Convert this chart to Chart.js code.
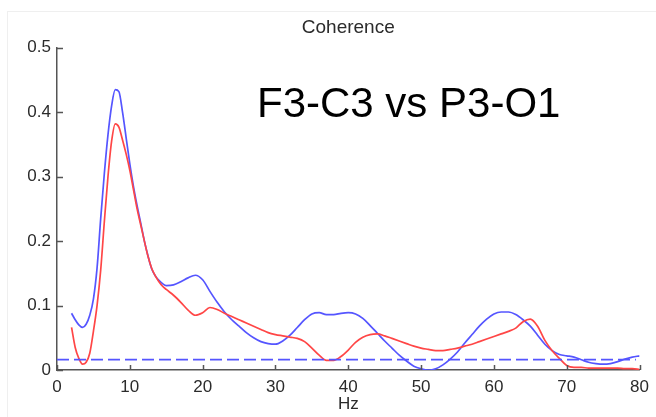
<!DOCTYPE html>
<html>
<head>
<meta charset="utf-8">
<title>Coherence</title>
<script src="https://cdn.jsdelivr.net/npm/chart.js@4/dist/chart.umd.min.js"></script>
<style>
  html, body { margin: 0; padding: 0; background: #fff; }
  #wrap { position: relative; width: 656px; height: 417px; overflow: hidden; }
  #frame {
    position: absolute; left: 7px; top: 11px; width: 700px; height: 420px;
    border-left: 1px solid #efefef; border-top: 1px solid #efefef;
  }
  #coh { position: absolute; left: 0; top: 0; }
  #pair {
    position: absolute; left: 257px; top: 79px;
    font-family: "Liberation Sans", Arial, sans-serif;
    font-size: 42px; color: #000; white-space: nowrap; line-height: 48px;
  }
</style>
</head>
<body>
<div id="wrap">
  <div id="frame"></div>
  <canvas id="coh" width="656" height="417"></canvas>
  <div id="pair">F3-C3 vs P3-O1</div>
</div>
<script>
'use strict';

// frequency grid (Hz)
const hz = [2, 2.5, 3, 3.5, 4, 4.5, 5, 5.5, 6, 6.5, 7, 7.5, 8, 8.5, 9, 9.5, 10, 10.5, 11, 11.5, 12, 12.5, 13, 13.5, 14, 14.5,
  15, 16, 17, 18, 19, 20, 21, 22, 23, 24, 25, 26, 27, 28, 29, 30, 31, 32, 33, 34, 35, 36, 37, 38, 39, 40,
  41, 42, 43, 44, 45, 46, 47, 48, 49, 50, 51, 52, 53, 54, 55, 56, 57, 58, 59, 60,
  61, 62, 63, 64, 65, 66, 67, 68, 69, 70, 71, 72, 73, 74, 75, 76, 77, 78, 79, 80];

// coherence, blue trace
const blueCoh = [0.088, 0.078, 0.070, 0.066, 0.071, 0.085, 0.110, 0.158, 0.235, 0.305, 0.365, 0.410, 0.435, 0.432, 0.400, 0.360, 0.320, 0.285, 0.255, 0.228, 0.200, 0.177, 0.157, 0.146, 0.139, 0.134,
  0.131, 0.132, 0.137, 0.143, 0.147, 0.140, 0.122, 0.105, 0.090, 0.078, 0.068, 0.058, 0.050, 0.044, 0.041, 0.040,
  0.045, 0.054, 0.066, 0.078, 0.087, 0.089, 0.086, 0.086, 0.088, 0.089,
  0.087, 0.080, 0.069, 0.057, 0.045, 0.034, 0.023, 0.014, 0.006, 0.002, 0.000, 0.002, 0.008, 0.017, 0.028, 0.042, 0.055, 0.068, 0.079, 0.087,
  0.090, 0.090, 0.086, 0.078, 0.068, 0.054, 0.040, 0.030, 0.024, 0.022, 0.020, 0.016, 0.012, 0.010, 0.009, 0.010, 0.013, 0.017, 0.020, 0.022];

// coherence, red trace
const redCoh = [0.066, 0.035, 0.018, 0.009, 0.012, 0.026, 0.060, 0.100, 0.155, 0.230, 0.300, 0.355, 0.382, 0.377, 0.357, 0.335, 0.310, 0.280, 0.250, 0.225, 0.200, 0.176, 0.158, 0.146, 0.137, 0.130,
  0.125, 0.116, 0.105, 0.093, 0.085, 0.089, 0.097, 0.094, 0.088, 0.083, 0.078, 0.073, 0.068, 0.063, 0.058, 0.055,
  0.053, 0.051, 0.049, 0.044, 0.034, 0.023, 0.015, 0.015, 0.021, 0.031,
  0.043, 0.051, 0.055, 0.056, 0.053, 0.049, 0.045, 0.041, 0.037, 0.034, 0.032, 0.030, 0.030, 0.032, 0.034, 0.037, 0.040, 0.044, 0.048, 0.052,
  0.056, 0.060, 0.065, 0.075, 0.079, 0.068, 0.046, 0.030, 0.018, 0.007, 0.004, 0.004, 0.003, 0.003, 0.003, 0.003, 0.003, 0.002, 0.002, 0.001];

// significance level (dashed)
const sigHz = [0, 79.5];
const sigLevel = [0.016, 0.016];

const xTicks = [0, 10, 20, 30, 40, 50, 60, 70, 80];
const yTicks = [0, 0.1, 0.2, 0.3, 0.4, 0.5];

const BLUE = 'rgb(85, 85, 255)';
const RED = 'rgb(255, 70, 70)';
const AXIS = '#555';
const TEXT = '#2b2b2b';

function toPoints(xs, ys) {
    return xs.map((x, i) => ({ x: x, y: ys[i] }));
}

// matlab style ticks pointing into the plot
const innerTicks = {
    id: 'innerTicks',
    afterDraw(chart) {
        const ctx = chart.ctx;
        const xs = chart.scales.x;
        const ys = chart.scales.y;
        const area = chart.chartArea;
        ctx.save();
        ctx.strokeStyle = AXIS;
        ctx.lineWidth = 1.5;
        ctx.beginPath();
        xTicks.forEach(function (v) {
            const px = Math.round(xs.getPixelForValue(v)) + 0.5;
            ctx.moveTo(px, area.bottom);
            ctx.lineTo(px, area.bottom - 5);
        });
        yTicks.forEach(function (v) {
            const py = Math.round(ys.getPixelForValue(v)) + 0.5;
            ctx.moveTo(area.left, py);
            ctx.lineTo(area.left + 6, py);
        });
        ctx.stroke();
        ctx.restore();
    }
};

new Chart(document.getElementById('coh'), {
    type: 'line',
    data: {
        datasets: [
            {
                data: toPoints(sigHz, sigLevel),
                borderColor: BLUE,
                borderWidth: 1.7,
                borderDash: [12, 5],
                pointRadius: 0,
                tension: 0
            },
            {
                data: toPoints(hz, redCoh),
                borderColor: RED,
                borderWidth: 1.7,
                pointRadius: 0,
                cubicInterpolationMode: 'monotone'
            },
            {
                data: toPoints(hz, blueCoh),
                borderColor: BLUE,
                borderWidth: 1.7,
                pointRadius: 0,
                cubicInterpolationMode: 'monotone'
            }
        ]
    },
    options: {
        responsive: false,
        animation: false,
        layout: { padding: { left: 0, right: 11, top: 0, bottom: 0 } },
        plugins: {
            legend: { display: false },
            tooltip: { enabled: false },
            title: {
                display: true,
                fullSize: false,
                text: 'Coherence',
                color: TEXT,
                font: { family: 'Liberation Sans', size: 19, weight: 'normal' },
                padding: { top: 16, bottom: 9 }
            }
        },
        scales: {
            x: {
                type: 'linear',
                min: 0,
                max: 80,
                grid: { display: false, drawTicks: false },
                border: { display: true, color: AXIS, width: 1.5 },
                afterBuildTicks: function (scale) {
                    scale.ticks = xTicks.map(v => ({ value: v }));
                },
                afterFit: function (scale) { scale.height = 47; },
                ticks: {
                    color: TEXT,
                    padding: 7,
                    maxRotation: 0,
                    font: { family: 'Liberation Sans', size: 17 }
                },
                title: {
                    display: true,
                    text: 'Hz',
                    color: TEXT,
                    font: { family: 'Liberation Sans', size: 17 },
                    padding: { top: 0, bottom: 2 }
                }
            },
            y: {
                type: 'linear',
                min: 0,
                max: 0.5,
                grid: { display: false, drawTicks: false },
                border: { display: true, color: AXIS, width: 1.5 },
                afterBuildTicks: function (scale) {
                    scale.ticks = yTicks.map(v => ({ value: v }));
                },
                afterFit: function (scale) { scale.width = 57; },
                ticks: {
                    color: TEXT,
                    padding: 6,
                    font: { family: 'Liberation Sans', size: 17 },
                    callback: function (v) { return String(Math.round(v * 10) / 10); }
                }
            }
        }
    },
    plugins: [innerTicks]
});
</script>
</body>
</html>
